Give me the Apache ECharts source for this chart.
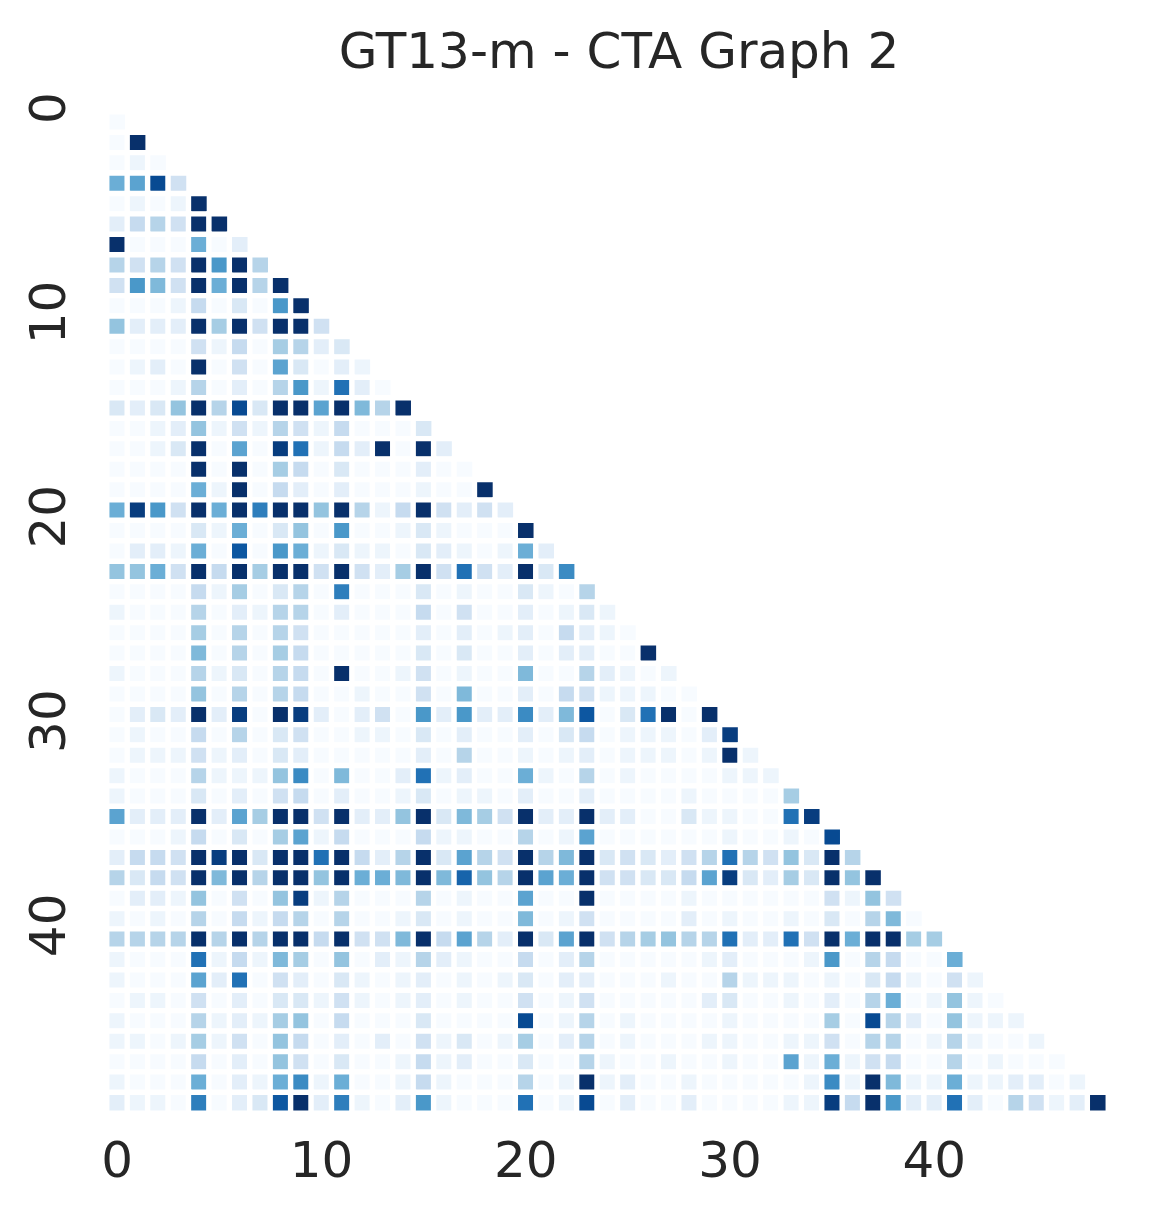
<!DOCTYPE html>
<html>
<head>
<meta charset="utf-8">
<title>GT13-m - CTA Graph 2</title>
<script src="https://cdn.jsdelivr.net/npm/echarts@6/dist/echarts.min.js"></script>
<style>
  html, body { margin: 0; padding: 0; background: #fff; }
  #chart { width: 1158px; height: 1221px; }
</style>
</head>
<body>
<div id="chart"></div>
<script>
// node index, used for both axes
const nodes = [0, 1, 2, 3, 4, 5, 6, 7, 8, 9, 10, 11, 12, 13, 14, 15, 16, 17, 18, 19,
  20, 21, 22, 23, 24, 25, 26, 27, 28, 29, 30, 31, 32, 33, 34, 35, 36, 37, 38, 39,
  40, 41, 42, 43, 44, 45, 46, 47, 48]

// lower triangle, row i holds columns 0..i (0 = lightest, 10 = darkest)
const rowValues = [
  [0],
  [0, 10],
  [0, 0.5, 0],
  [5, 5.5, 9, 2],
  [0, 0.5, 0, 0.5, 10],
  [1, 2.5, 3, 2, 10, 10],
  [10, 0, 0, 0, 5, 0, 1],
  [3, 2, 3, 2, 10, 6, 10, 3],
  [2, 6, 4.5, 2, 10, 5, 10, 3, 10],
  [0, 0, 0, 0.5, 2.5, 0, 1.5, 0, 6, 10],
  [4, 1, 1, 1, 10, 3.5, 10, 2, 10, 10, 2],
  [0, 0, 0, 0, 2, 0.5, 2.5, 0, 3.5, 3, 1, 1.5],
  [0, 0.5, 1, 0, 10, 0, 2, 0, 5.5, 1.5, 0, 1, 0.5],
  [0, 0, 0, 0.5, 3, 0, 1, 0, 3, 6, 0.5, 7.5, 1, 0],
  [1.5, 1, 1.5, 4, 10, 3, 9, 1.5, 10, 10, 5.5, 10, 4.5, 3, 10],
  [0, 0, 0.5, 1, 4, 0.5, 2, 0.5, 3, 2, 0.5, 2.5, 0, 0, 0, 1.5],
  [0, 0, 0.5, 1.5, 10, 0, 5.5, 0, 9.5, 7.5, 0.5, 2.5, 1, 10, 0, 10, 1],
  [0, 0, 0, 0, 10, 0, 10, 0, 3.5, 2.5, 0, 1.5, 0, 0, 0, 1, 0, 0],
  [0, 0, 0, 0, 5, 0.5, 10, 0, 2.5, 1, 0, 1, 0, 0, 0, 0.5, 0, 0, 10],
  [5, 9.5, 6, 2, 10, 5, 10, 7, 10, 10, 4, 10, 3, 0.5, 2.5, 10, 2, 1, 2, 1],
  [0, 0, 0, 0, 1.5, 0.5, 5, 0, 1.5, 4, 0, 6, 0, 0, 0.5, 1.5, 0.5, 0, 0, 0, 10],
  [0, 1, 1, 0.5, 5, 0, 8.5, 0, 6, 5, 0.5, 1.5, 0.5, 0.5, 0, 1.5, 1, 0.5, 0, 0.5, 5, 1],
  [4, 4, 5, 2, 10, 2.5, 10, 3.5, 10, 10, 2, 10, 2, 1, 3.5, 10, 2, 7.5, 2, 1, 10, 1.5, 6.5],
  [0, 0, 0, 0, 2.5, 0.5, 3.5, 0, 1.5, 3, 0, 7, 0, 0, 0, 1.5, 0, 0.5, 0, 0, 1.5, 0.5, 0, 3],
  [0.5, 0, 0, 0, 3, 0, 1, 0.5, 3, 3, 0, 1, 0, 0, 0, 2.5, 0, 2, 0, 0, 1, 0, 0.5, 1.5, 0.5],
  [0, 0, 0, 0, 3.5, 0, 3, 0, 3, 2, 0, 0, 0, 0, 0, 1, 0, 1, 0, 0.5, 1, 0, 2.5, 1, 0.5, 0],
  [0, 0, 0, 0, 4.5, 0, 3, 0, 3.5, 2.5, 0, 0, 0, 0, 0, 1.5, 0, 1.5, 0, 0, 1, 0, 1, 1, 0, 0, 10],
  [0.5, 0, 0, 0, 3, 0.5, 1.5, 0, 3, 2.5, 0, 10, 0, 0, 0.5, 2, 0, 0.5, 0, 0, 4.5, 0, 0, 3, 1, 0.5, 0, 0.5],
  [0, 0, 0, 0, 4, 0, 3, 0, 3, 2.5, 0, 0, 0.5, 0, 0, 2, 0, 4.5, 0, 0, 1, 0, 2.5, 2, 0.5, 0.5, 0.5, 0, 0],
  [0, 1, 1.5, 1, 10, 1, 9.5, 0, 10, 9.5, 1, 0, 1, 2, 0, 6, 1, 6, 1, 1, 6.5, 1, 4.5, 8.5, 0, 1.5, 7.5, 10, 0, 10],
  [0, 0.5, 0, 0, 2.5, 0, 3, 0, 1.5, 2, 0, 0, 0.5, 0.5, 0, 1.5, 0, 1, 0, 0, 1, 0, 1.5, 2.5, 0, 0.5, 0.5, 0.5, 0, 1, 9.5],
  [0, 0.5, 0.5, 0.5, 2, 0.5, 1, 0, 1.5, 1, 0, 0, 0, 0, 0, 1, 0, 3, 0, 0, 0.5, 0, 0.5, 1, 0, 0.5, 0.5, 0.5, 0, 0.5, 10, 0.5],
  [0.5, 0, 0, 0, 3, 0.5, 0.5, 0.5, 4, 6.5, 0, 4.5, 0, 0, 1, 7.5, 0.5, 1, 0, 0, 5, 0.5, 0, 3, 0, 0.5, 0, 0, 0, 0, 0.5, 0.5, 0.5],
  [0.5, 0, 0, 0, 1.5, 0, 1, 0, 2, 2.5, 0, 1, 0, 0, 0.5, 1.5, 0, 0.5, 0.5, 0, 1, 0, 0, 1, 0, 0, 0, 0, 0.5, 0, 0, 0, 0, 3.5],
  [5.5, 1, 1, 1, 10, 1, 5.5, 3.5, 10, 10, 2, 10, 1, 1, 4, 10, 1.5, 4.5, 3.5, 2, 10, 1, 1, 10, 1, 1, 0, 0, 1.5, 0.5, 0.5, 0, 0, 7.5, 9.5],
  [0, 0, 0, 0.5, 2.5, 0, 1.5, 0, 3.5, 5.5, 0.5, 2.5, 0, 0, 0, 2.5, 0.5, 0.5, 0, 0, 3, 0, 0.5, 5.5, 0, 0, 0, 0, 0, 0, 0.5, 0, 0, 0.5, 0, 9],
  [1, 2.5, 2.5, 2, 10, 9.5, 10, 1.5, 10, 10, 7.5, 10, 2.5, 1, 3, 10, 1.5, 5.5, 3, 2, 10, 3, 4.5, 10, 1.5, 2, 1.5, 1, 2, 3, 7.5, 3, 2, 4, 1.5, 10, 3],
  [3, 1.5, 2.5, 2, 10, 4.5, 10, 3, 10, 10, 4, 10, 5, 5, 4.5, 10, 4.5, 8, 4, 3, 10, 5.5, 5, 10, 2, 2, 1.5, 1.5, 2.5, 5.5, 9.5, 1.5, 1, 3.5, 1.5, 10, 4, 10],
  [0, 1, 1, 0.5, 4, 0, 2, 0, 4, 9.5, 0.5, 3, 0, 0, 0, 3, 0, 0.5, 0, 0, 5.5, 0, 0, 10, 0, 0, 0, 0, 0.5, 0, 0, 0, 0, 0, 0, 2, 0.5, 4, 2],
  [0.5, 0, 0.5, 0, 3, 0, 2.5, 0.5, 2.5, 3, 0, 3, 0, 0, 0.5, 1.5, 0, 0.5, 0, 0, 4.5, 0, 0.5, 2, 0, 0, 0, 0, 1, 0, 0.5, 0, 0, 0.5, 0, 1.5, 0, 3, 4.5, 0],
  [3, 3, 3, 3, 10, 3, 10, 3, 10, 10, 2.5, 10, 2, 2, 4.5, 10, 2.5, 5.5, 3, 1, 10, 1.5, 5.5, 10, 2, 3, 3.5, 4, 3, 3, 7.5, 1, 1, 7.5, 2, 10, 5, 10, 10, 3.5, 3.5],
  [0.5, 0, 0, 0, 7.5, 0.5, 2.5, 0.5, 4.5, 3.5, 0, 4, 0, 1, 0.5, 3, 1, 0.5, 0, 0, 2.5, 0, 1, 3, 0, 0, 0, 0, 0, 0.5, 1, 0, 0, 0, 0.5, 6, 0, 3, 2.5, 0, 0, 5],
  [0.5, 0, 0, 0, 5.5, 1, 7.5, 0, 2, 1, 0, 1.5, 0.5, 0, 0.5, 1, 0, 0.5, 0, 0.5, 1.5, 0, 1, 1, 0, 0, 0, 0.5, 0, 0, 3, 0.5, 0.5, 0.5, 0, 0.5, 0, 1.5, 2.5, 0.5, 0, 2, 0.5],
  [0, 0.5, 0.5, 0, 2, 0, 1, 0, 1.5, 1.5, 0.5, 2, 0.5, 0, 0.5, 1, 0, 0.5, 0, 0, 2, 0, 0.5, 2, 0, 0, 0, 0, 0, 1, 1.5, 0, 0, 0.5, 0, 1, 0, 3, 5, 0, 0.5, 4, 0.5, 0],
  [0.5, 0, 0, 0, 3, 0.5, 1, 0.5, 3.5, 4, 0, 2.5, 0, 0, 0, 1.5, 0, 0, 0, 0, 9, 0, 0.5, 3, 0, 0.5, 0, 0, 0, 0, 0.5, 0, 0, 0, 0, 3.5, 0, 9, 3, 1, 0, 4, 0.5, 0.5, 0.5],
  [0.5, 0.5, 0, 0.5, 3.5, 0.5, 2, 0, 4, 2.5, 0, 1, 0, 1, 0, 2, 0.5, 1.5, 0, 0.5, 3.5, 0, 1, 3, 0, 0.5, 0, 0, 0, 0.5, 0.5, 0, 0, 0.5, 0.5, 2, 0, 3, 3, 0, 0.5, 3, 0.5, 0, 0, 0.5],
  [0, 0, 0, 0, 2.5, 0, 1, 0, 4, 2, 0, 1.5, 0, 0, 0.5, 2.5, 0.5, 1, 0, 0, 1.5, 0, 0, 3, 0.5, 0, 0, 0.5, 0, 0, 0.5, 0, 0, 5.5, 0.5, 5, 0.5, 2, 2.5, 0, 0, 3, 0, 0.5, 0, 0, 0],
  [0.5, 0, 0, 0, 5, 0, 1, 0.5, 5, 6.5, 0.5, 5, 0, 0, 0.5, 2.5, 0.5, 0, 0, 0, 3, 0, 0.5, 10, 0.5, 1, 0, 0, 0.5, 0, 0, 0, 0, 0, 0.5, 6.5, 0.5, 10, 4.5, 0.5, 0.5, 5, 0.5, 0.5, 1, 1, 0, 0.5],
  [1, 0.5, 0.5, 0, 7, 0, 1, 1.5, 8.5, 10, 1, 7, 0.5, 0, 1, 6, 0.5, 0, 0, 0, 7.5, 0, 0.5, 9, 0, 1, 0, 0, 1, 0, 0, 0, 0, 0.5, 0.5, 9.5, 2.5, 10, 6, 1, 1, 7.5, 1, 0, 3, 2, 0.5, 1, 10]
]

// seaborn "Blues"
const blues = ['#f7fbff', '#deebf7', '#c6dbef', '#9ecae1', '#6baed6', '#4292c6', '#2171b5', '#08519c', '#08306b']

const textColor = '#262626'
const fontFamily = 'DejaVu Sans'

// [col, row, value] for echarts heatmap
let cells = []
for (let i = 0; i < rowValues.length; i++) {
  for (let j = 0; j < rowValues[i].length; j++) {
    cells.push([j, i, rowValues[i][j]])
  }
}

const chart = echarts.init(document.getElementById('chart'), null, { renderer: 'canvas' })

chart.setOption({
  animation: false,
  backgroundColor: '#fff',
  title: {
    text: 'GT13-m - CTA Graph 2',
    left: 614,
    top: 25,
    textAlign: 'center',
    textStyle: {
      color: textColor,
      fontFamily: fontFamily,
      fontSize: 50,
      fontWeight: 'normal',
      lineHeight: 50
    }
  },
  grid: {
    left: 107,
    top: 112,
    width: 1001,
    height: 1001
  },
  xAxis: {
    type: 'category',
    data: nodes,
    axisLine: { show: false },
    axisTick: { show: false },
    splitLine: { show: false },
    axisLabel: {
      interval: 9,
      margin: 26,
      color: textColor,
      fontFamily: fontFamily,
      fontSize: 50,
      lineHeight: 50
    }
  },
  yAxis: {
    type: 'category',
    data: nodes,
    inverse: true,
    axisLine: { show: false },
    axisTick: { show: false },
    splitLine: { show: false },
    axisLabel: {
      interval: 9,
      rotate: 90,
      margin: 30,
      padding: [0, 0, 0, 28],
      color: textColor,
      fontFamily: fontFamily,
      fontSize: 50,
      lineHeight: 50
    }
  },
  visualMap: {
    show: false,
    type: 'continuous',
    min: 0,
    max: 10,
    inRange: { color: blues }
  },
  series: [{
    type: 'heatmap',
    data: cells,
    itemStyle: {
      borderColor: '#fff',
      borderWidth: 5.4
    },
    emphasis: { disabled: true }
  }]
})
</script>
</body>
</html>
